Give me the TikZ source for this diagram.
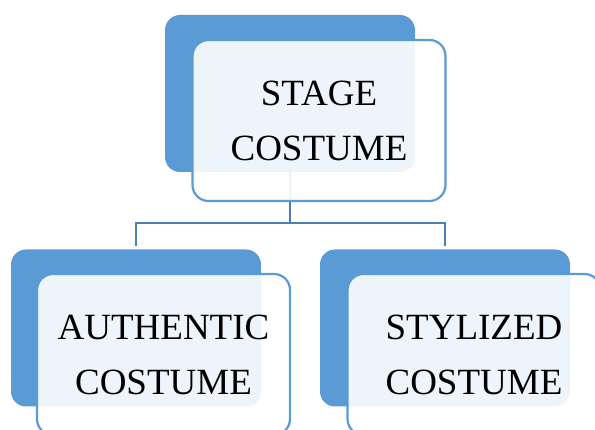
\documentclass[tikz,border=0pt]{standalone}
\usepackage{fontspec}
\setmainfont{Liberation Serif}
\definecolor{accent}{HTML}{5B9BD5}
\definecolor{conn}{HTML}{4A7EB5}
\begin{document}
\begin{tikzpicture}[x=1pt,y=-1pt,
  back/.style={rectangle, rounded corners=15pt, fill=accent, minimum width=250pt, minimum height=157pt, inner sep=0pt},
  front/.style={rectangle, rounded corners=16pt, draw=accent, line width=2.2pt, fill=white, fill opacity=0.9, text opacity=1, minimum width=253pt, minimum height=161pt, inner sep=0pt, align=center, font=\fontsize{37}{55}\selectfont},
  link/.style={draw=conn, line width=2.3pt}]
\useasboundingbox (0,0) rectangle (595,430);
% back boxes
\node[back] (tb) at (290,93.5) {};
\node[back] (lb) at (136,328) {};
\node[back] (rb) at (445,328) {};
% connectors
\coordinate (j) at (290,223);
\draw[link] (tb.south) -- (j);
\draw[link, shorten >=3pt] (j) -| (lb.north);
\draw[link, shorten >=3pt] (j) -| (rb.north);
% front boxes
\node[front] (tf) at (319,120.5) {STAGE\\COSTUME};
\node[front] (lf) at (163.5,354.5) {AUTHENTIC\\COSTUME};
\node[front] (rf) at (474,354.5) {STYLIZED\\COSTUME};
\end{tikzpicture}
\end{document}
